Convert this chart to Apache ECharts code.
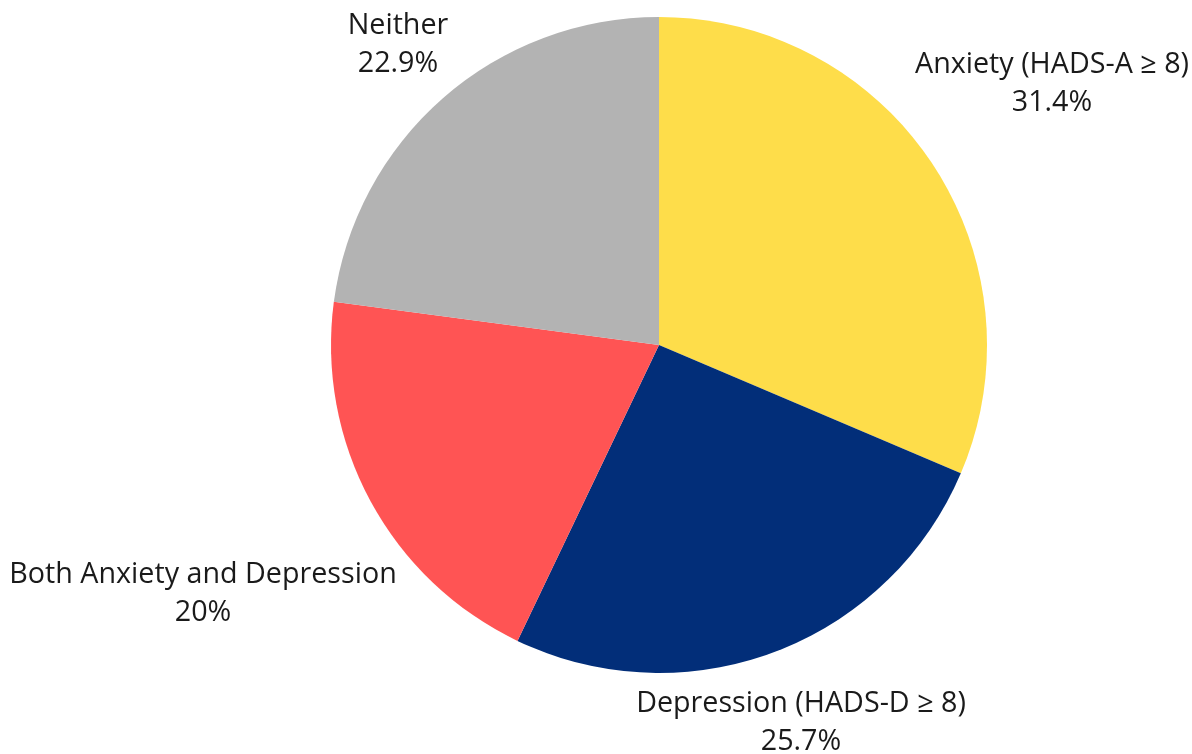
<!DOCTYPE html>
<html>
<head>
<meta charset="utf-8">
<style>
    html, body { margin: 0; padding: 0; background: #ffffff; }
    #chart { width: 1192px; height: 754px; }
</style>
<script src="https://cdn.jsdelivr.net/npm/echarts@6/dist/echarts.min.js"></script>
</head>
<body>
<div id="chart"></div>
<script>
const categories = [
    'Anxiety (HADS-A ≥ 8)',
    'Depression (HADS-D ≥ 8)',
    'Both Anxiety and Depression',
    'Neither'
];
const shares = [31.4, 25.7, 20, 22.9];
const sliceColors = ['#fedd4a', '#022e79', '#ff5454', '#b3b3b3'];

// where each label's centre sits, relative to the pie centre
const PIE_CENTER = [659, 345];
const labelOffsets = [[393, -261], [142, 378], [-456, 249], [-261, -300]];

const chart = echarts.init(document.getElementById('chart'));

chart.setOption({
    animation: false,
    series: [{
        type: 'pie',
        center: PIE_CENTER,
        radius: 328,
        startAngle: 90,
        clockwise: true,
        data: categories.map((name, i) => ({
            name,
            value: shares[i],
            itemStyle: { color: sliceColors[i] }
        })),
        itemStyle: { borderWidth: 0 },
        label: {
            show: true,
            position: 'inside',
            formatter: params => `${params.name}\n${params.value}%`,
            color: '#1a1a1a',
            textBorderWidth: 0,
            fontFamily: 'Open Sans',
            fontSize: 28.7,
            lineHeight: 38,
            align: 'center'
        },
        labelLine: { show: false },
        labelLayout(params) {
            const off = labelOffsets[params.dataIndex];
            return {
                x: PIE_CENTER[0] + off[0],
                y: PIE_CENTER[1] + off[1],
                align: 'center',
                verticalAlign: 'middle'
            };
        },
        emphasis: { disabled: true }
    }]
});

window.addEventListener('resize', () => chart.resize());
</script>
</body>
</html>
